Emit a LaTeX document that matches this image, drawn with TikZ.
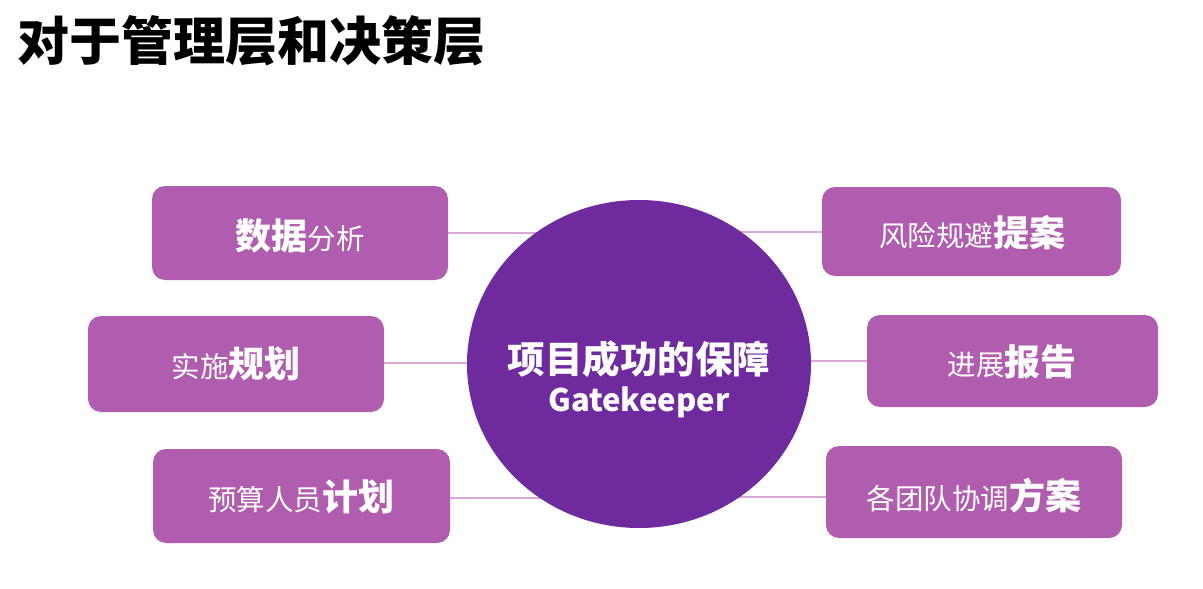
\documentclass[tikz,border=0pt]{standalone}
\usepackage{fontspec}
\setmainfont{Noto Sans CJK SC}
\usetikzlibrary{shapes.geometric,backgrounds}
\definecolor{boxc}{HTML}{B15DAF}
\definecolor{circc}{HTML}{6F2A9E}
\definecolor{linec}{HTML}{D9A8D7}
\tikzset{
  item/.style={fill=boxc, rounded corners=13pt, text=white, inner sep=0pt, align=center},
  hub/.style={ellipse, fill=circc, text=white, inner sep=0pt, minimum width=344pt, minimum height=328pt, align=center},
  conn/.style={draw=linec, line width=1.1pt},
}
\newcommand{\smtxt}[1]{{\fontsize{28.5}{32}\selectfont #1}}
\newcommand{\bgtxt}[1]{{\fontsize{36}{40}\selectfont\bfseries #1}}
\begin{document}
\begin{tikzpicture}[x=1pt,y=-1pt]
\useasboundingbox (0,0) rectangle (1203,589);
\node[anchor=west, font=\fontsize{52}{56}\selectfont\bfseries] (title) at (14,41) {对于管理层和决策层};

\node[hub] (hub) at (639,364) {};
\node[text=white, font=\fontsize{37.5}{40}\selectfont\bfseries] (hubt1) at (639,359) {项目成功的保障};
\node[text=white, font=\fontsize{31}{34}\selectfont\bfseries] (hubt2) at (639,402) {Gatekeeper};

\node[item, minimum width=296pt, minimum height=94pt] (b1) at (300,233) {};
\node[text=white] (t1) at (300,236) {\bgtxt{数据}\smtxt{分析}};
\node[item, minimum width=296pt, minimum height=96pt] (b2) at (236,364) {};
\node[text=white] (t2) at (236,364) {\smtxt{实施}\bgtxt{规划}};
\node[item, minimum width=297pt, minimum height=94pt] (b3) at (301.5,496) {};
\node[text=white] (t3) at (301,497) {\smtxt{预算人员}\bgtxt{计划}};
\node[item, minimum width=299pt, minimum height=89pt] (b4) at (971.5,231.5) {};
\node[text=white] (t4) at (972,233) {\smtxt{风险规避}\bgtxt{提案}};
\node[item, minimum width=291pt, minimum height=92pt] (b5) at (1012.5,361) {};
\node[text=white] (t5) at (1012,362) {\smtxt{进展}\bgtxt{报告}};
\node[item, minimum width=296pt, minimum height=92pt] (b6) at (974,492) {};
\node[text=white] (t6) at (974,496) {\smtxt{各团队协调}\bgtxt{方案}};

\begin{pgfonlayer}{background}
\draw[conn] (b1.east |- 0,233) -- (hub.center |- 0,233);
\draw[conn] (b2.east |- 0,363) -- (hub.center |- 0,363);
\draw[conn] (b3.east |- 0,498) -- (hub.center |- 0,498);
\draw[conn] (b4.west |- 0,232) -- (hub.center |- 0,232);
\draw[conn] (b5.west |- 0,361) -- (hub.center |- 0,361);
\draw[conn] (b6.west |- 0,497) -- (hub.center |- 0,497);
\end{pgfonlayer}
\end{tikzpicture}
\end{document}
